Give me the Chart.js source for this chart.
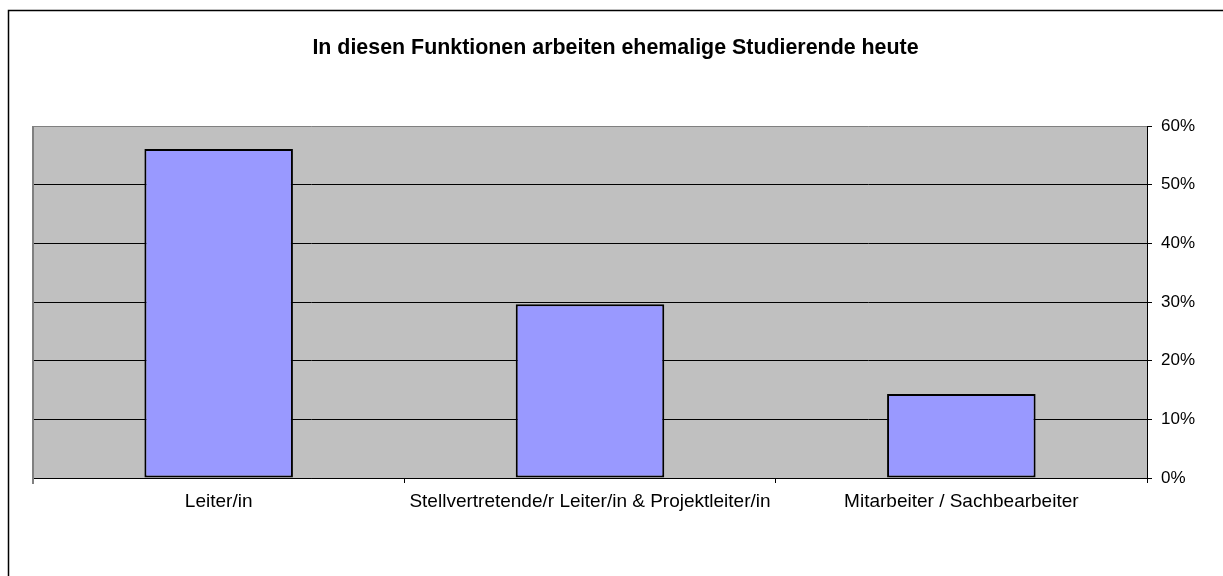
<!DOCTYPE html>
<html>
<head>
<meta charset="utf-8">
<script src="https://cdn.jsdelivr.net/npm/chart.js@4"></script>
<style>
  html, body { margin: 0; padding: 0; background: #fff; }
  #wrap { width: 1223px; height: 576px; }
</style>
</head>
<body>
<div id="wrap"><canvas id="chart1" width="1223" height="576"></canvas></div>
<script>
// Daten
const titel = 'In diesen Funktionen arbeiten ehemalige Studierende heute';
const kategorien = ['Leiter/in', 'Stellvertretende/r Leiter/in & Projektleiter/in', 'Mitarbeiter / Sachbearbeiter'];
const anteile = [56.1, 29.6, 14.3];
const yTicks = [0, 10, 20, 30, 40, 50, 60];

const schrift = '"Liberation Sans", Arial, sans-serif';

// Rahmen, grauer Hintergrund und Titel
const rahmenPlugin = {
    id: 'rahmen',
    beforeDraw(chart) {
        const ctx = chart.ctx;
        const a = chart.chartArea;
        ctx.save();
        ctx.fillStyle = '#fff';
        ctx.fillRect(0, 0, chart.width, chart.height);
        ctx.fillStyle = '#c0c0c0';
        ctx.fillRect(a.left, a.top, a.right - a.left, a.bottom - a.top);
        // äußerer Rahmen (nur links und oben sichtbar)
        ctx.strokeStyle = '#000';
        ctx.lineWidth = 1.5;
        ctx.beginPath();
        ctx.moveTo(8.5, chart.height);
        ctx.lineTo(8.5, 10.5);
        ctx.lineTo(chart.width, 10.5);
        ctx.stroke();
        ctx.restore();
    },
    afterDatasetsDraw(chart) {
        const ctx = chart.ctx;
        const a = chart.chartArea;
        ctx.save();
        ctx.strokeStyle = '#808080';
        ctx.lineWidth = 2;
        ctx.beginPath();
        ctx.moveTo(Math.round(a.left), a.bottom + 6);
        ctx.lineTo(Math.round(a.left), a.top);
        ctx.stroke();
        ctx.restore();
    },
    afterDraw(chart) {
        const ctx = chart.ctx;
        ctx.save();
        ctx.font = 'bold 21.4px ' + schrift;
        ctx.fillStyle = '#000';
        ctx.textAlign = 'center';
        ctx.textBaseline = 'middle';
        ctx.fillText(titel, 615.5, 48);
        ctx.restore();
    }
};

const ctx1 = document.getElementById('chart1').getContext('2d');
const chart1 = new Chart(ctx1, {
    type: 'bar',
    data: {
        labels: kategorien,
        datasets: [{
            data: anteile,
            backgroundColor: '#9999ff',
            borderColor: '#000',
            borderWidth: 2,
            borderSkipped: false,
            categoryPercentage: 1.0,
            barPercentage: 0.4
        }]
    },
    options: {
        responsive: false,
        animation: false,
        layout: { padding: { left: 33, top: 126, right: 0, bottom: 0 } },
        plugins: {
            legend: { display: false },
            title: { display: false },
            tooltip: { enabled: false }
        },
        scales: {
            x: {
                grid: {
                    offset: true,
                    drawOnChartArea: false,
                    drawTicks: true,
                    tickLength: 5,
                    color: '#000'
                },
                border: { display: true, color: '#000', width: 1 },
                ticks: {
                    color: '#000',
                    font: { family: schrift, size: 19 },
                    padding: 7,
                    maxRotation: 0,
                    autoSkip: false
                },
                afterFit(scale) { scale.height = 98; }
            },
            y: {
                position: 'right',
                min: 0,
                max: 60,
                afterBuildTicks(scale) {
                    scale.ticks = yTicks.map(v => ({ value: v }));
                },
                grid: {
                    color: ctx => ctx.tick && ctx.tick.value === 60 ? '#808080' : '#000',
                    tickColor: '#000',
                    tickLength: 5,
                    drawTicks: true
                },
                border: { display: true, color: '#000', width: 1 },
                ticks: {
                    color: '#000',
                    font: { family: schrift, size: 17 },
                    padding: 9,
                    callback: v => v + '%'
                },
                afterFit(scale) { scale.width = 76; }
            }
        }
    },
    plugins: [rahmenPlugin]
});
</script>
</body>
</html>
